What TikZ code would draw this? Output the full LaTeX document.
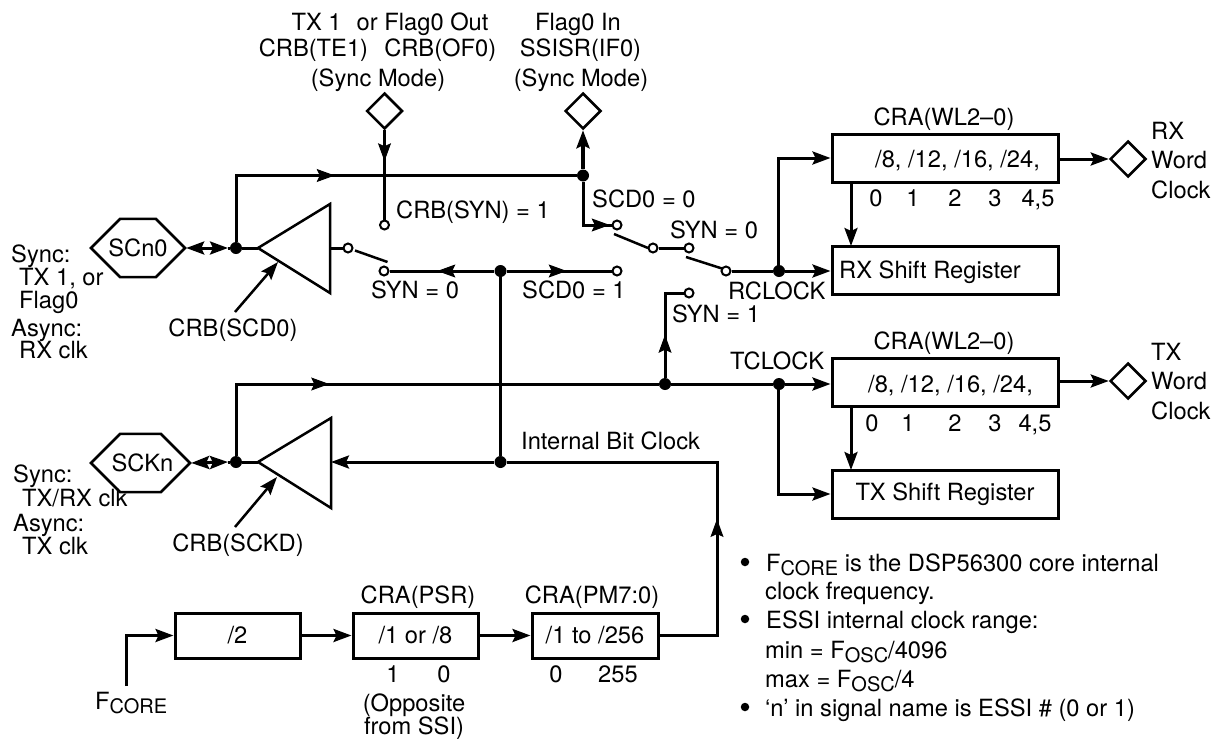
\documentclass[tikz,border=0pt]{standalone}
\usepackage{fontspec}
\setmainfont{TeX Gyre Heros}
\usetikzlibrary{arrows.meta,shapes.geometric,shapes.misc,decorations.markings}
\newcommand{\subtxt}[1]{\raisebox{-0.2em}{\fontsize{20}{20}\selectfont #1}}
\tikzset{
  wire/.style={line width=3pt,line join=miter},
  atip/.tip={Stealth[length=18pt,width=13pt,inset=3pt]},
  awire/.style={wire,-{atip}},
  tipat/.style={postaction={decorate,decoration={markings,mark=at position #1 with {\arrow[line width=1pt]{atip}}}}},
  sdot/.style={circle,fill=black,inner sep=0pt,minimum size=12pt},
  odot/.style={circle,draw=black,line width=2pt,fill=white,inner sep=0pt,minimum size=9pt},
  bdot/.style={circle,fill=black,inner sep=0pt,minimum size=8.5pt},
  regbox/.style={draw=black,line width=3pt,rectangle,inner sep=0pt,minimum width=226pt,minimum height=48pt},
  divbox/.style={draw=black,line width=3pt,rectangle,inner sep=0pt,minimum height=45pt},
  port/.style={draw=black,fill=white,line width=2.5pt,diamond,aspect=1,inner sep=0pt,minimum width=36pt,minimum height=36pt},
  pin/.style={draw=black,line width=2.5pt,chamfered rectangle,chamfered rectangle xsep=24pt,chamfered rectangle ysep=20pt,inner sep=0pt,minimum height=40pt},
  lbl/.style={anchor=base west,inner sep=0pt},
  lblc/.style={anchor=base,inner sep=0pt},
  amp/.style={draw=black,line width=2.5pt,line join=miter},
  arm/.style={line width=2.5pt},
}
\begin{document}
\begin{tikzpicture}[x=1pt,y=-1pt,font=\fontsize{23.7}{26}\selectfont]
\useasboundingbox (0,0) rectangle (1221,739);
\fill[white] (0,0) rectangle (1221,739);

% ---- junctions and switch contacts
\node[sdot] (dA) at (236,248) {};
\node[sdot] (dB) at (583,175.5) {};
\node[sdot] (dC) at (500.5,271) {};
\node[sdot] (dR) at (779,271) {};
\node[sdot] (dT) at (665,384) {};
\node[sdot] (dU) at (779,384) {};
\node[sdot] (dE) at (236,462) {};
\node[sdot] (dD) at (500.5,462) {};
\node[odot] (oA) at (348,248) {};
\node[odot] (oB) at (384,271) {};
\node[odot] (oC) at (384.5,225) {};
\node[odot] (oD) at (617,225) {};
\node[odot] (oE) at (617,271) {};
\node[odot] (oF) at (653,248) {};
\node[odot] (oG) at (689,248) {};
\node[odot] (oH) at (726,271) {};
\node[odot] (oI) at (689,293) {};

% ---- pins, ports
\node[pin,minimum width=94pt] (scn) at (138,248) {SCn0};
\node[pin,minimum width=99pt] (sck) at (140.5,463) {\hspace{4pt}SCKn};
\node[port] (pTop) at (384.5,111) {};
\node[port] (pFlag) at (583,111) {};
\node[port] (pRX) at (1128,159) {};
\node[port] (pTX) at (1128,381) {};

% ---- boxes
\node[regbox] (wlR) at (945,158) {};
\node[regbox] (srR) at (945,270) {};
\node[regbox] (wlT) at (945,382) {};
\node[regbox] (srT) at (945,494) {TX Shift Register};
\node[divbox,minimum width=125pt] (b2) at (237.5,635.5) {/2};
\node[divbox,minimum width=125pt] (b18) at (415.5,635.5) {/1 or /8};
\node[divbox,minimum width=126pt] (b256) at (595,635.5) {/1 to /256};

% ---- amplifiers
\coordinate (t1a) at (258,248);
\coordinate (t1o) at (330,248);
\draw[amp] (t1a) -- (330,204) -- (330,293) -- cycle;
\coordinate (t2a) at (258,462);
\coordinate (t2o) at (331,462);
\draw[amp] (t2a) -- (331,418) -- (331,508) -- cycle;

% ---- free ends
\coordinate (hA) at (228,248);
\coordinate (hE) at (228,462);
\coordinate (ctlA) at (235,312);
\coordinate (ctlAt) at (278,262);
\coordinate (ctlB) at (235,527);
\coordinate (ctlBt) at (277,477);
\coordinate (bitc) at (717,462);
\coordinate (fc) at (126,686);

% ---- connectors
\draw[wire,tipat=165pt] (dA) |- (dB);
\draw[wire,tipat=165pt] (dE) |- (dT);
\draw[wire] (dT) -- (dU);
\draw[awire] (dU) -- (wlT.west |- dU);
\draw[wire,{atip}-{atip}] (scn.east) -- (hA);
\draw[wire] (hA) -- (dA);
\draw[wire] (dA) -- (t1a);
\draw[wire,{atip}-{atip}] (sck.east) -- (hE);
\draw[wire] (hE) -- (dE);
\draw[wire] (dE) -- (t2a);
\draw[wire] (t1o) -- (oA);
\draw[arm] (355,250.5) -- (387.5,262);
\draw[line width=2.5pt,-{atip}] (ctlA) -- (ctlAt);
\draw[line width=2.5pt,-{atip}] (ctlB) -- (ctlBt);
\draw[wire,tipat=31pt] (pTop.south) -- (oC);
\draw[line width=4pt,-{atip}] (dB) -- (pFlag.south);
\draw[wire,tipat=70pt] (dB) |- (oD);
\draw[arm] (614,234) -- (648,248);
\draw[wire] (oF) -- (oG);
\draw[arm] (686,257) -- (722,268.5);
\draw[wire] (oH) -- (dR);
\draw[awire] (dR) -- (srR.west |- dR);
\draw[awire] (778,271) |- (wlR.west);
\draw[wire,tipat=57pt] (dC) -- (oB);
\draw[wire,tipat=60pt] (dC) -- (oE);
\draw[wire] (dC) -- (dD);
\draw[wire,tipat=43pt] (dT) |- (oI);
\draw[awire] (wlR.east |- pRX) -- (pRX.west);
\draw[awire] (wlT.east |- pTX) -- (pTX.west);
\draw[awire] (851,182) -- (851,246);
\draw[awire] (851,406) -- (851,470);
\draw[awire] (778,384) |- (srT.west);
\draw[wire,tipat=174pt] (b256.east) -| (bitc) -- (dD);
\draw[awire] (dD) -- (t2o);
\draw[awire] (fc) |- (b2.west);
\draw[awire] (b2.east) -- (b18.west);
\draw[awire] (b18.east) -- (b256.west);

% ---- labels
\node[lblc] (top1) at (390,30) {TX 1\ \ \hspace{2pt}or Flag0 Out};
\node[lblc] (top2) at (377.5,56) {CRB(TE1)\ \ \hspace{3pt}CRB(OF0)};
\node[lblc] (top3) at (378,86) {(Sync Mode)};
\node[lblc] (top4) at (578,30) {Flag0 In};
\node[lblc] (top5) at (580.5,56) {SSISR(IF0)};
\node[lblc] (top6) at (581,86) {(Sync Mode)};
\node[lbl] (l1) at (396,218) {CRB(SYN) = 1};
\node[lbl] (l2) at (592,207) {SCD0 = 0};
\node[lbl] (l3) at (670,238) {SYN = 0};
\node[lbl] (l4) at (371,298) {SYN = 0};
\node[lbl] (l5) at (522,298) {SCD0 = 1};
\node[lbl] (l6) at (728,299) {RCLOCK};
\node[lbl] (l7) at (672,322) {SYN = 1};
\node[lbl] (l8) at (730,369) {TCLOCK};
\node[lbl] (l9) at (521,449) {Internal Bit Clock};

\node[lblc] (wl1) at (944,125) {CRA(WL2–0)};
\node[lblc] (wl2) at (944,349) {CRA(WL2–0)};
\node[lbl] (wl3) at (875,167) {/8, /12, /16, /24,};
\node[lbl] (wl4) at (868,392) {/8, /12, /16, /24,};
\node[lbl] (srR1) at (839,278) {RX Shift Register};
\node[lblc] (n1) at (876,206) {0};
\node[lblc] (n2) at (913,206) {1};
\node[lblc] (n3) at (955,206) {2};
\node[lblc] (n4) at (995,206) {3};
\node[lblc] (n5) at (1038,206) {4,5};
\node[lblc] (m1) at (872,431) {0};
\node[lblc] (m2) at (908,431) {1};
\node[lblc] (m3) at (955,431) {2};
\node[lblc] (m4) at (995,431) {3};
\node[lblc] (m5) at (1035,431) {4,5};
\node[lbl] (r1) at (1151,139) {RX};
\node[lbl] (r2) at (1151,168) {Word};
\node[lbl] (r3) at (1151,198) {Clock};
\node[lbl] (r4) at (1151,360) {TX};
\node[lbl] (r5) at (1151,389) {Word};
\node[lbl] (r6) at (1151,419) {Clock};

\node[lbl] (s1) at (11,262) {Sync:};
\node[lbl] (s2) at (19,285) {TX 1, or};
\node[lbl] (s3) at (19,308) {Flag0};
\node[lbl] (s4) at (11,336) {Async:};
\node[lbl] (s5) at (19,358) {RX clk};
\node[lbl] (s6) at (13,482) {Sync:};
\node[lbl] (s7) at (22,506) {TX/RX clk};
\node[lbl] (s8) at (13,531) {Async:};
\node[lbl] (s9) at (22,554) {TX clk};
\node[lblc] (c1) at (233,336) {CRB(SCD0)};
\node[lblc] (c2) at (238,551) {CRB(SCKD)};

\node[lblc] (p1) at (418,603) {CRA(PSR)};
\node[lblc] (p2) at (592,603) {CRA(PM7:0)};
\node[lblc] (p3) at (393,682) {1};
\node[lblc] (p4) at (444,682) {0};
\node[lblc] (p5) at (556,682) {0};
\node[lblc] (p6) at (618,682) {255};
\node[lblc] (p7) at (414,711) {(Opposite};
\node[lblc] (p8) at (414,734) {from SSI)};
\node[lbl] (fcore) at (95,709) {F\subtxt{CORE}};

\node[bdot] (b1) at (745,562) {};
\node[lbl] (b1a) at (766,571) {F\subtxt{CORE} is the DSP56300 core internal};
\node[lbl] (b1b) at (765,599) {clock frequency.};
\node[bdot] (b2t) at (745,619) {};
\node[lbl] (b2a) at (766,628) {ESSI internal clock range:};
\node[lbl] (b2b) at (765,658) {min = F\subtxt{OSC}/4096};
\node[lbl] (b2c) at (765,687) {max = F\subtxt{OSC}/4};
\node[bdot] (b3t) at (745,707) {};
\node[lbl] (b3a) at (765,716) {‘n’ in signal name is ESSI \# (0 or 1)};
\end{tikzpicture}
\end{document}
